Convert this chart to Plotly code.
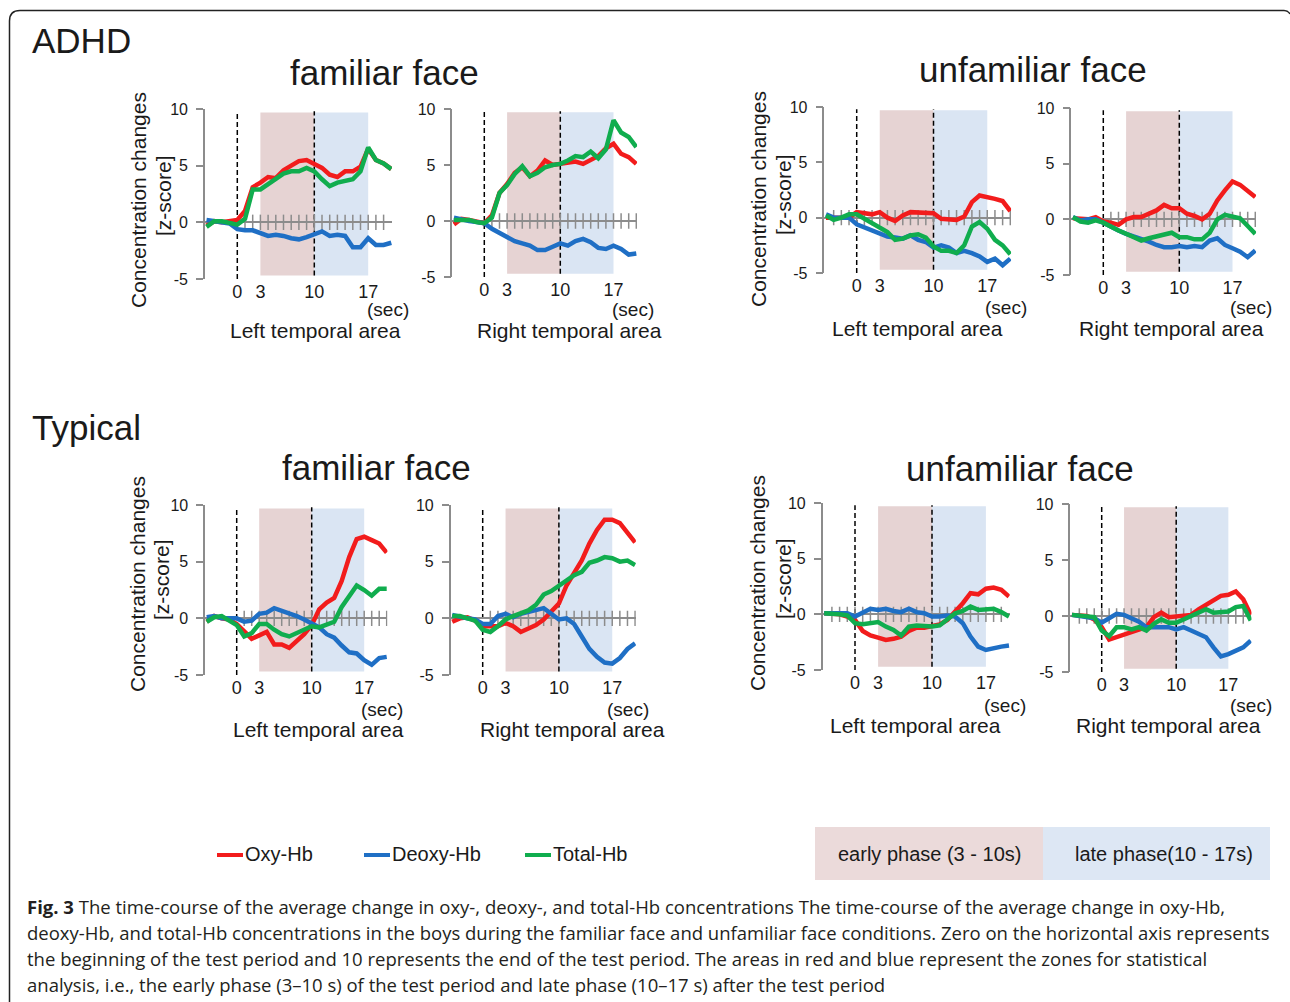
import plotly.graph_objects as go

W, H = 1290, 1002

# ---------------- data (z-score), time in seconds ----------------
time_s = list(range(-4, 21))
xtick_vals = [0, 3, 10, 17]
xtick_text = ["0", "3", "10", "17"]
ytick_vals = [10, 5, 0, -5]
ytick_text = ["10", "5", "0", "-5"]
early_phase = [3, 10]
late_phase = [10, 17]
markers_at = [0, 10]

adhd_fam_left_oxy = [-0.3, 0.1, 0.0, 0.1, 0.2, 1.0, 3.1, 3.5, 4.0, 3.9, 4.6, 5.0, 5.4, 5.5, 5.2, 4.8, 4.2, 4.0, 4.5, 4.5, 4.9, 6.5, 5.5, 5.2, 4.7]
adhd_fam_left_deoxy = [0.2, 0.1, 0.0, -0.1, -0.6, -0.7, -0.7, -1.0, -1.2, -1.1, -1.2, -1.4, -1.5, -1.3, -1.0, -0.8, -1.2, -1.1, -1.2, -2.2, -2.2, -1.4, -2.0, -2.0, -1.8]
adhd_fam_left_total = [-0.4, 0.1, 0.1, -0.1, -0.2, 0.3, 2.9, 2.9, 3.4, 3.8, 4.3, 4.5, 4.5, 4.8, 4.5, 3.8, 3.2, 3.5, 3.6, 3.8, 4.5, 6.6, 5.5, 5.2, 4.7]

adhd_fam_right_oxy = [-0.3, 0.2, 0.1, 0.0, -0.2, 0.5, 2.5, 3.3, 4.3, 4.8, 4.0, 4.5, 5.4, 5.0, 5.1, 5.2, 5.3, 5.1, 5.5, 5.8, 6.5, 6.9, 6.0, 5.7, 5.1]
adhd_fam_right_deoxy = [0.3, 0.1, 0.0, -0.1, -0.2, -0.7, -1.1, -1.5, -1.8, -2.0, -2.2, -2.6, -2.6, -2.3, -2.0, -2.2, -1.8, -1.6, -1.9, -2.4, -2.5, -2.2, -2.5, -3.0, -2.9]
adhd_fam_right_total = [0.1, 0.1, 0.1, -0.1, -0.2, 0.3, 2.5, 3.2, 4.2, 4.9, 4.0, 4.3, 4.8, 5.0, 5.1, 5.4, 5.8, 5.7, 6.2, 5.6, 6.4, 9.0, 7.9, 7.5, 6.6]

adhd_unf_left_oxy = [0.0, 0.0, 0.0, 0.0, 0.5, 0.4, 0.3, 0.5, 0.0, -0.3, 0.2, 0.5, 0.5, 0.5, 0.4, -0.1, -0.1, -0.2, 0.1, 1.4, 2.0, 1.9, 1.7, 1.5, 0.6]
adhd_unf_left_deoxy = [0.3, 0.0, 0.0, 0.0, -0.6, -0.9, -1.2, -1.5, -1.7, -1.8, -1.9, -1.6, -2.0, -2.2, -2.7, -2.5, -2.7, -3.2, -3.0, -3.2, -3.5, -4.0, -3.7, -4.3, -3.7]
adhd_unf_left_total = [0.2, -0.2, 0.0, 0.3, 0.3, -0.1, -0.6, -0.9, -1.3, -2.0, -1.9, -1.6, -1.5, -1.8, -2.6, -3.0, -3.0, -3.2, -2.5, -0.8, -0.4, -1.0, -2.0, -2.5, -3.3]

adhd_unf_right_oxy = [0.1, 0.0, 0.0, 0.2, -0.2, -0.3, -0.5, 0.0, 0.2, 0.2, 0.5, 0.8, 1.3, 1.0, 1.0, 0.5, 0.3, 0.0, 0.5, 1.7, 2.6, 3.4, 3.1, 2.6, 2.0]
adhd_unf_right_deoxy = [0.2, -0.1, 0.0, 0.0, -0.3, -0.7, -1.0, -1.3, -1.5, -1.7, -2.0, -2.3, -2.5, -2.5, -2.4, -2.5, -2.4, -2.5, -1.9, -1.7, -2.3, -2.6, -2.9, -3.4, -2.8]
adhd_unf_right_total = [0.2, -0.2, -0.3, -0.1, -0.3, -0.7, -1.0, -1.3, -1.6, -1.9, -1.7, -1.5, -1.4, -1.2, -1.6, -1.6, -1.8, -1.8, -1.2, 0.0, 0.4, 0.3, 0.1, -0.6, -1.3]

typ_fam_left_oxy = [-0.3, 0.2, 0.0, -0.1, -0.5, -1.1, -1.8, -1.5, -1.2, -2.3, -2.3, -2.6, -2.0, -1.4, -0.6, 0.8, 1.4, 1.8, 3.3, 5.4, 7.0, 7.2, 6.9, 6.6, 5.8]
typ_fam_left_deoxy = [0.1, 0.2, 0.0, 0.0, 0.0, -0.3, -0.2, 0.4, 0.5, 0.9, 0.7, 0.4, 0.2, -0.1, -0.4, -0.8, -1.4, -1.7, -2.4, -3.0, -3.1, -3.7, -4.1, -3.5, -3.4]
typ_fam_left_total = [-0.3, 0.1, 0.2, -0.2, -0.6, -1.6, -1.3, -0.5, -0.5, -1.0, -1.4, -1.6, -1.3, -1.1, -0.7, -0.8, -0.6, -0.3, 1.0, 2.0, 2.9, 2.5, 2.0, 2.6, 2.6]

typ_fam_right_oxy = [-0.3, 0.0, 0.1, -0.2, -0.7, -0.7, -0.7, -0.4, -0.7, -1.2, -0.9, -0.6, -0.1, 0.6, 1.3, 2.9, 4.1, 5.1, 6.6, 7.8, 8.7, 8.7, 8.4, 7.5, 6.7]
typ_fam_right_deoxy = [0.3, 0.1, 0.0, -0.1, -0.5, -0.5, 0.2, 0.4, 0.1, 0.4, 0.6, 0.8, 0.9, 0.4, -0.1, 0.0, -0.5, -1.6, -2.7, -3.4, -3.9, -4.0, -3.5, -2.7, -2.2]
typ_fam_right_total = [0.2, 0.2, 0.0, -0.2, -1.0, -1.2, -0.7, -0.1, 0.2, 0.4, 0.7, 1.2, 2.1, 2.4, 2.9, 3.4, 3.8, 4.1, 4.9, 5.1, 5.4, 5.3, 5.0, 5.1, 4.7]

typ_unf_left_oxy = [0.1, 0.1, 0.0, -0.2, -0.5, -1.5, -1.9, -2.1, -2.3, -2.2, -2.0, -1.5, -1.2, -1.2, -1.0, -0.9, -0.5, 0.2, 1.0, 1.9, 1.8, 2.3, 2.4, 2.2, 1.6]
typ_unf_left_deoxy = [0.1, 0.1, 0.0, 0.1, -0.2, 0.2, 0.5, 0.4, 0.5, 0.3, 0.2, 0.5, 0.2, 0.1, -0.2, -0.2, -0.1, -0.2, -0.8, -2.0, -2.9, -3.2, -3.0, -2.9, -2.8]
typ_unf_left_total = [0.1, 0.1, 0.0, -0.1, -0.8, -0.9, -0.8, -0.7, -1.1, -1.4, -1.9, -1.1, -1.0, -1.1, -1.1, -1.0, -0.5, 0.1, 0.3, 0.7, 0.4, 0.4, 0.5, 0.2, -0.2]

typ_unf_right_oxy = [0.1, 0.1, 0.0, -0.3, -1.0, -2.1, -1.9, -1.6, -1.5, -1.2, -1.0, -0.1, 0.3, -0.1, 0.0, 0.0, 0.1, 0.6, 1.0, 1.3, 1.8, 1.9, 2.2, 1.5, 0.1]
typ_unf_right_deoxy = [0.1, 0.0, -0.1, -0.2, -0.6, -0.2, 0.2, 0.1, -0.2, -0.5, -1.0, -1.0, -1.0, -1.0, -1.2, -1.0, -1.3, -1.6, -1.9, -2.8, -3.6, -3.4, -3.1, -2.8, -2.2]
typ_unf_right_total = [0.1, 0.0, 0.0, -0.1, -1.3, -1.8, -1.0, -1.0, -1.2, -1.0, -1.3, -0.7, -0.3, -0.6, -0.6, -0.3, 0.0, 0.3, 0.6, 0.3, 0.3, 0.4, 0.8, 0.9, -0.4]

series_names = ["Oxy-Hb", "Deoxy-Hb", "Total-Hb"]
series_colors = ["#f21c1c", "#1f6fc5", "#10ad4e"]

# ---------------- layout helpers ----------------
FONT = "Liberation Sans, Arial, sans-serif"
TXT = "#1a1a1a"
AXC = "#8c8c8c"


def px(x):
    return x / W


def py(y):
    return 1 - y / H


def note(text, x, y, size, xanchor="center", yanchor="middle", angle=0, family=FONT, color=TXT):
    return dict(text=text, x=px(x), y=py(y), xref="paper", yref="paper", xanchor=xanchor, yanchor=yanchor,
                textangle=angle, showarrow=False, font=dict(family=family, size=size, color=color))


panels = [
    dict(data=(adhd_fam_left_oxy, adhd_fam_left_deoxy, adhd_fam_left_total), x0=237.3, pps=7.7, top=109, bot=279,
         zt=list(range(1, 20)), area="Left temporal area", sec=(388, 310), lab=(315, 330)),
    dict(data=(adhd_fam_right_oxy, adhd_fam_right_deoxy, adhd_fam_right_total), x0=484.3, pps=7.6, top=109, bot=277,
         zt=list(range(1, 21)), area="Right temporal area", sec=(633, 310), lab=(569, 330)),
    dict(data=(adhd_unf_left_oxy, adhd_unf_left_deoxy, adhd_unf_left_total), x0=856.7, pps=7.68, top=107, bot=273,
         zt=list(range(-3, 21)), area="Left temporal area", sec=(1006, 307), lab=(917, 328)),
    dict(data=(adhd_unf_right_oxy, adhd_unf_right_deoxy, adhd_unf_right_total), x0=1103.3, pps=7.6, top=108, bot=275,
         zt=list(range(1, 21)), area="Right temporal area", sec=(1251, 307), lab=(1171, 328)),
    dict(data=(typ_fam_left_oxy, typ_fam_left_deoxy, typ_fam_left_total), x0=236.7, pps=7.5, top=505, bot=675,
         zt=list(range(1, 21)), area="Left temporal area", sec=(382, 709), lab=(318, 729)),
    dict(data=(typ_fam_right_oxy, typ_fam_right_deoxy, typ_fam_right_total), x0=482.7, pps=7.62, top=505, bot=675,
         zt=list(range(1, 21)), area="Right temporal area", sec=(628, 709), lab=(572, 729)),
    dict(data=(typ_unf_left_oxy, typ_unf_left_deoxy, typ_unf_left_total), x0=855.0, pps=7.7, top=503, bot=670,
         zt=list(range(-3, 20)), area="Left temporal area", sec=(1005, 705), lab=(915, 725)),
    dict(data=(typ_unf_right_oxy, typ_unf_right_deoxy, typ_unf_right_total), x0=1101.7, pps=7.45, top=504, bot=672,
         zt=list(range(-3, 20)), area="Right temporal area", sec=(1251, 705), lab=(1168, 725)),
]

XMIN, XMAX = -4.2, 20.1

fig = go.Figure()
shapes = []
annotations = []
layout_axes = {}

for i, p in enumerate(panels, start=1):
    xa = "x" if i == 1 else f"x{i}"
    ya = "y" if i == 1 else f"y{i}"
    xkey = "xaxis" if i == 1 else f"xaxis{i}"
    ykey = "yaxis" if i == 1 else f"yaxis{i}"
    left = p["x0"] + XMIN * p["pps"]
    right = p["x0"] + XMAX * p["pps"]
    layout_axes[xkey] = dict(
        domain=[px(left), px(right)], range=[XMIN, XMAX], anchor=ya,
        showgrid=False, zeroline=False, showline=False, ticks="",
        tickvals=xtick_vals, ticktext=xtick_text, automargin=False,
        tickfont=dict(family=FONT, size=18, color=TXT), fixedrange=True,
    )
    layout_axes[ykey] = dict(
        domain=[py(p["bot"]), py(p["top"])], range=[-5, 10], anchor=xa,
        showgrid=False, zeroline=True, zerolinecolor=AXC, zerolinewidth=1.5,
        showline=True, linecolor=AXC, linewidth=1.5, automargin=False,
        ticks="outside", ticklen=7, tickwidth=1.5, tickcolor=AXC,
        tickvals=ytick_vals, ticktext=ytick_text, ticklabelstandoff=5,
        tickfont=dict(family=FONT, size=16, color=TXT), fixedrange=True,
    )
    # phase shading
    shapes.append(dict(type="rect", xref=xa, yref=ya, x0=early_phase[0], x1=early_phase[1], y0=-4.7, y1=9.7,
                       fillcolor="#e6d3d3", line=dict(width=0), layer="below"))
    shapes.append(dict(type="rect", xref=xa, yref=ya, x0=late_phase[0], x1=late_phase[1], y0=-4.7, y1=9.7,
                       fillcolor="#dae5f3", line=dict(width=0), layer="below"))
    for m in markers_at:
        shapes.append(dict(type="line", xref=xa, yref=ya, x0=m, x1=m, y0=-5 if m == 0 else -4.7, y1=9.8,
                           line=dict(color="black", width=1.5, dash="5px,3px"), layer="below"))
    # zero-line tick crosses
    fig.add_trace(go.Scatter(x=p["zt"], y=[0] * len(p["zt"]), xaxis=xa, yaxis=ya, mode="markers",
                             marker=dict(symbol="line-ns", size=11, line=dict(width=1.5, color=AXC)),
                             hoverinfo="skip", showlegend=False))
    # data curves: Oxy, Deoxy, Total
    for vals, name, col in zip(p["data"], series_names, series_colors):
        fig.add_trace(go.Scatter(x=time_s, y=vals, xaxis=xa, yaxis=ya, mode="lines", name=name,
                                 line=dict(color=col, width=4.5), showlegend=False))
    annotations.append(note("(sec)", p["sec"][0], p["sec"][1], 19))
    annotations.append(note(p["area"], p["lab"][0], p["lab"][1], 21))

# y-axis titles
for xc1, xc2, yc in [(139, 163, 200), (758, 783, 199), (137, 161, 584), (757, 783, 583)]:
    annotations.append(note("Concentration changes", xc1, yc, 21, angle=-90))
    annotations.append(note("[z-score]", xc2, yc - 4, 21, angle=-90))

# group and condition titles
for txt, x, y, anc in [("ADHD", 30, 41, "left"), ("Typical", 30, 427, "left"),
                       ("familiar face", 384, 72, "center"), ("unfamiliar face", 1033, 70, "center"),
                       ("familiar face", 377, 467, "center"), ("unfamiliar face", 1020, 468, "center")]:
    annotations.append(note(txt, x, y, 35, xanchor=anc))

# legend (line samples + labels)
for name, col, l0, l1 in zip(series_names, series_colors, [217, 364, 525], [243, 390, 551]):
    shapes.append(dict(type="line", xref="paper", yref="paper", x0=px(l0), x1=px(l1), y0=py(855), y1=py(855),
                       line=dict(color=col, width=4)))
    annotations.append(note(name, l1, 854, 20, xanchor="left"))

# phase key boxes
shapes.append(dict(type="rect", xref="paper", yref="paper", x0=px(815), x1=px(1043), y0=py(880), y1=py(827),
                   fillcolor="#ebdada", line=dict(width=0)))
shapes.append(dict(type="rect", xref="paper", yref="paper", x0=px(1043), x1=px(1270), y0=py(880), y1=py(827),
                   fillcolor="#dde7f4", line=dict(width=0)))
annotations.append(note("early phase (3 - 10s)", 930, 854, 20))
annotations.append(note("late phase(10 - 17s)", 1164, 854, 20))

# caption
caption = [
    "<b>Fig. 3</b> The time-course of the average change in oxy-, deoxy-, and total-Hb concentrations The time-course of the average change in oxy-Hb,",
    "deoxy-Hb, and total-Hb concentrations in the boys during the familiar face and unfamiliar face conditions. Zero on the horizontal axis represents",
    "the beginning of the test period and 10 represents the end of the test period. The areas in red and blue represent the zones for statistical",
    "analysis, i.e., the early phase (3–10 s) of the test period and late phase (10–17 s) after the test period",
]
for k, line in enumerate(caption):
    annotations.append(note(line, 25, 906 + 26.3 * k, 18.5, xanchor="left",
                            family="Open Sans, Noto Sans, sans-serif", color="#231f20"))


# outer rounded frame
def P(x, y):
    return f"{px(x):.6f},{py(y):.6f}"


frame = f"M {P(9.5, 1002)} L {P(9.5, 21)} Q {P(9.5, 10.5)} {P(20, 10.5)} L {P(1284, 10.5)} Q {P(1288, 10.5)} {P(1290, 14)}"
shapes.append(dict(type="path", xref="paper", yref="paper", path=frame, line=dict(color="#222222", width=1.5)))

fig.update_layout(
    width=W, height=H, autosize=False,
    margin=dict(l=0, r=0, t=0, b=0, pad=0, autoexpand=False),
    paper_bgcolor="white", plot_bgcolor="rgba(0,0,0,0)",
    showlegend=False, shapes=shapes, annotations=annotations,
    font=dict(family=FONT, color=TXT),
    **layout_axes,
)

fig.write_html("out.html", config={"displayModeBar": False},
               post_script="document.body.style.margin='0px';document.body.style.overflow='hidden';")
